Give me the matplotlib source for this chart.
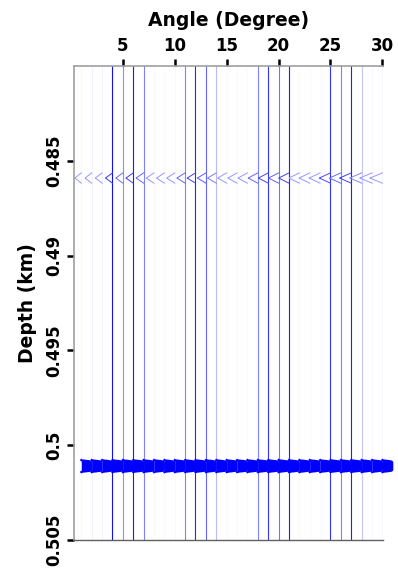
import numpy as np
import matplotlib.pyplot as plt

# traces (one per angle)
angles = np.arange(1, 31)
# how dark each trace line looks (0 = white, 1 = full blue)
trace_shade = [0.03, 0.05, 0.05, 0.95, 0.45, 0.9, 0.5, 0.02, 0.02, 0.03,
               0.5, 0.85, 0.6, 0.28, 0.02, 0.02, 0.02, 0.5, 0.8, 0.55,
               0.88, 0.02, 0.02, 0.02, 0.8, 0.5, 0.88, 0.22, 0.03, 0.03]
# shallow weak event: leftward swing per trace (in trace units)
chevron_amp = [0.62, 0.63, 0.65, 0.67, 0.68, 0.7, 0.72, 0.74, 0.75, 0.77,
               0.79, 0.8, 0.82, 0.84, 0.86, 0.88, 0.9, 0.92, 0.94, 0.96,
               0.98, 1.0, 1.02, 1.05, 1.07, 1.1, 1.12, 1.15, 1.18, 1.2]
# deep strong event: rightward swing per trace
event_amp = [0.95] * 30

chevron_depth = 0.4859
event_depth = 0.5011
depth_range = (0.48, 0.505)

x_ticks = [5, 10, 15, 20, 25, 30]
y_ticks = [0.485, 0.49, 0.495, 0.5, 0.505]
y_labels = ['0.485', '0.49', '0.495', '0.5', '0.505']


def blue(s):
    return (1 - s, 1 - s, 1.0)


fig = plt.figure(figsize=(3.98, 5.81), dpi=100)
ax = fig.add_axes([0.186, 0.0706, 0.776, 0.8154])

depth = np.linspace(depth_range[0], depth_range[1], 5001)

# zero lines of each trace
for a, s in zip(angles, trace_shade):
    ax.plot([a, a], depth_range, color=blue(s), lw=0.8, zorder=1)

# shallow event: thin "<" shaped wiggles
half = 0.00027
tri = np.clip(1 - np.abs(depth - chevron_depth) / half, 0, None)
mask = tri > 0
for a, amp, s in zip(angles, chevron_amp, trace_shade):
    x = a - amp * tri[mask]
    ax.plot(x, depth[mask], color=blue(0.4 + 0.4 * s), lw=0.7, zorder=2)

# deep event: filled positive lobes (overlapping into one band)
pulse = np.exp(-np.abs((depth - event_depth) / 0.00028) ** 14)
m2 = pulse > 0.003
for a, amp in zip(angles, event_amp):
    x = a + amp * pulse[m2]
    ax.fill_betweenx(depth[m2], a, x, color='#0000ff', lw=0, zorder=3,
                     clip_on=False)
    ax.plot(x, depth[m2], color='#0000ff', lw=1.6, zorder=3, clip_on=False)

ax.set_xlim(0.3, 30.05)
ax.set_ylim(depth_range[1], depth_range[0])

ax.xaxis.set_ticks_position('top')
ax.xaxis.set_label_position('top')
ax.set_xticks(x_ticks)
ax.set_xticklabels([str(t) for t in x_ticks], fontsize=12, fontweight='bold')
ax.set_yticks(y_ticks)
ax.set_yticklabels(y_labels, fontsize=12, fontweight='bold',
                   rotation=90, va='center')
ax.tick_params(axis='both', direction='out', length=5, width=1.8,
               color='black', pad=3)
ax.set_xlabel('Angle (Degree)', fontsize=13.5, fontweight='bold', labelpad=8)
ax.set_ylabel('Depth (km)', fontsize=13.5, fontweight='bold', labelpad=6)

for side in ['left', 'top']:
    ax.spines[side].set_color('#a0a0a0')
    ax.spines[side].set_linewidth(1.2)
ax.spines['bottom'].set_color('#606060')
ax.spines['bottom'].set_linewidth(1.0)
ax.spines['right'].set_visible(False)

fig.savefig('out.png', dpi=100)
